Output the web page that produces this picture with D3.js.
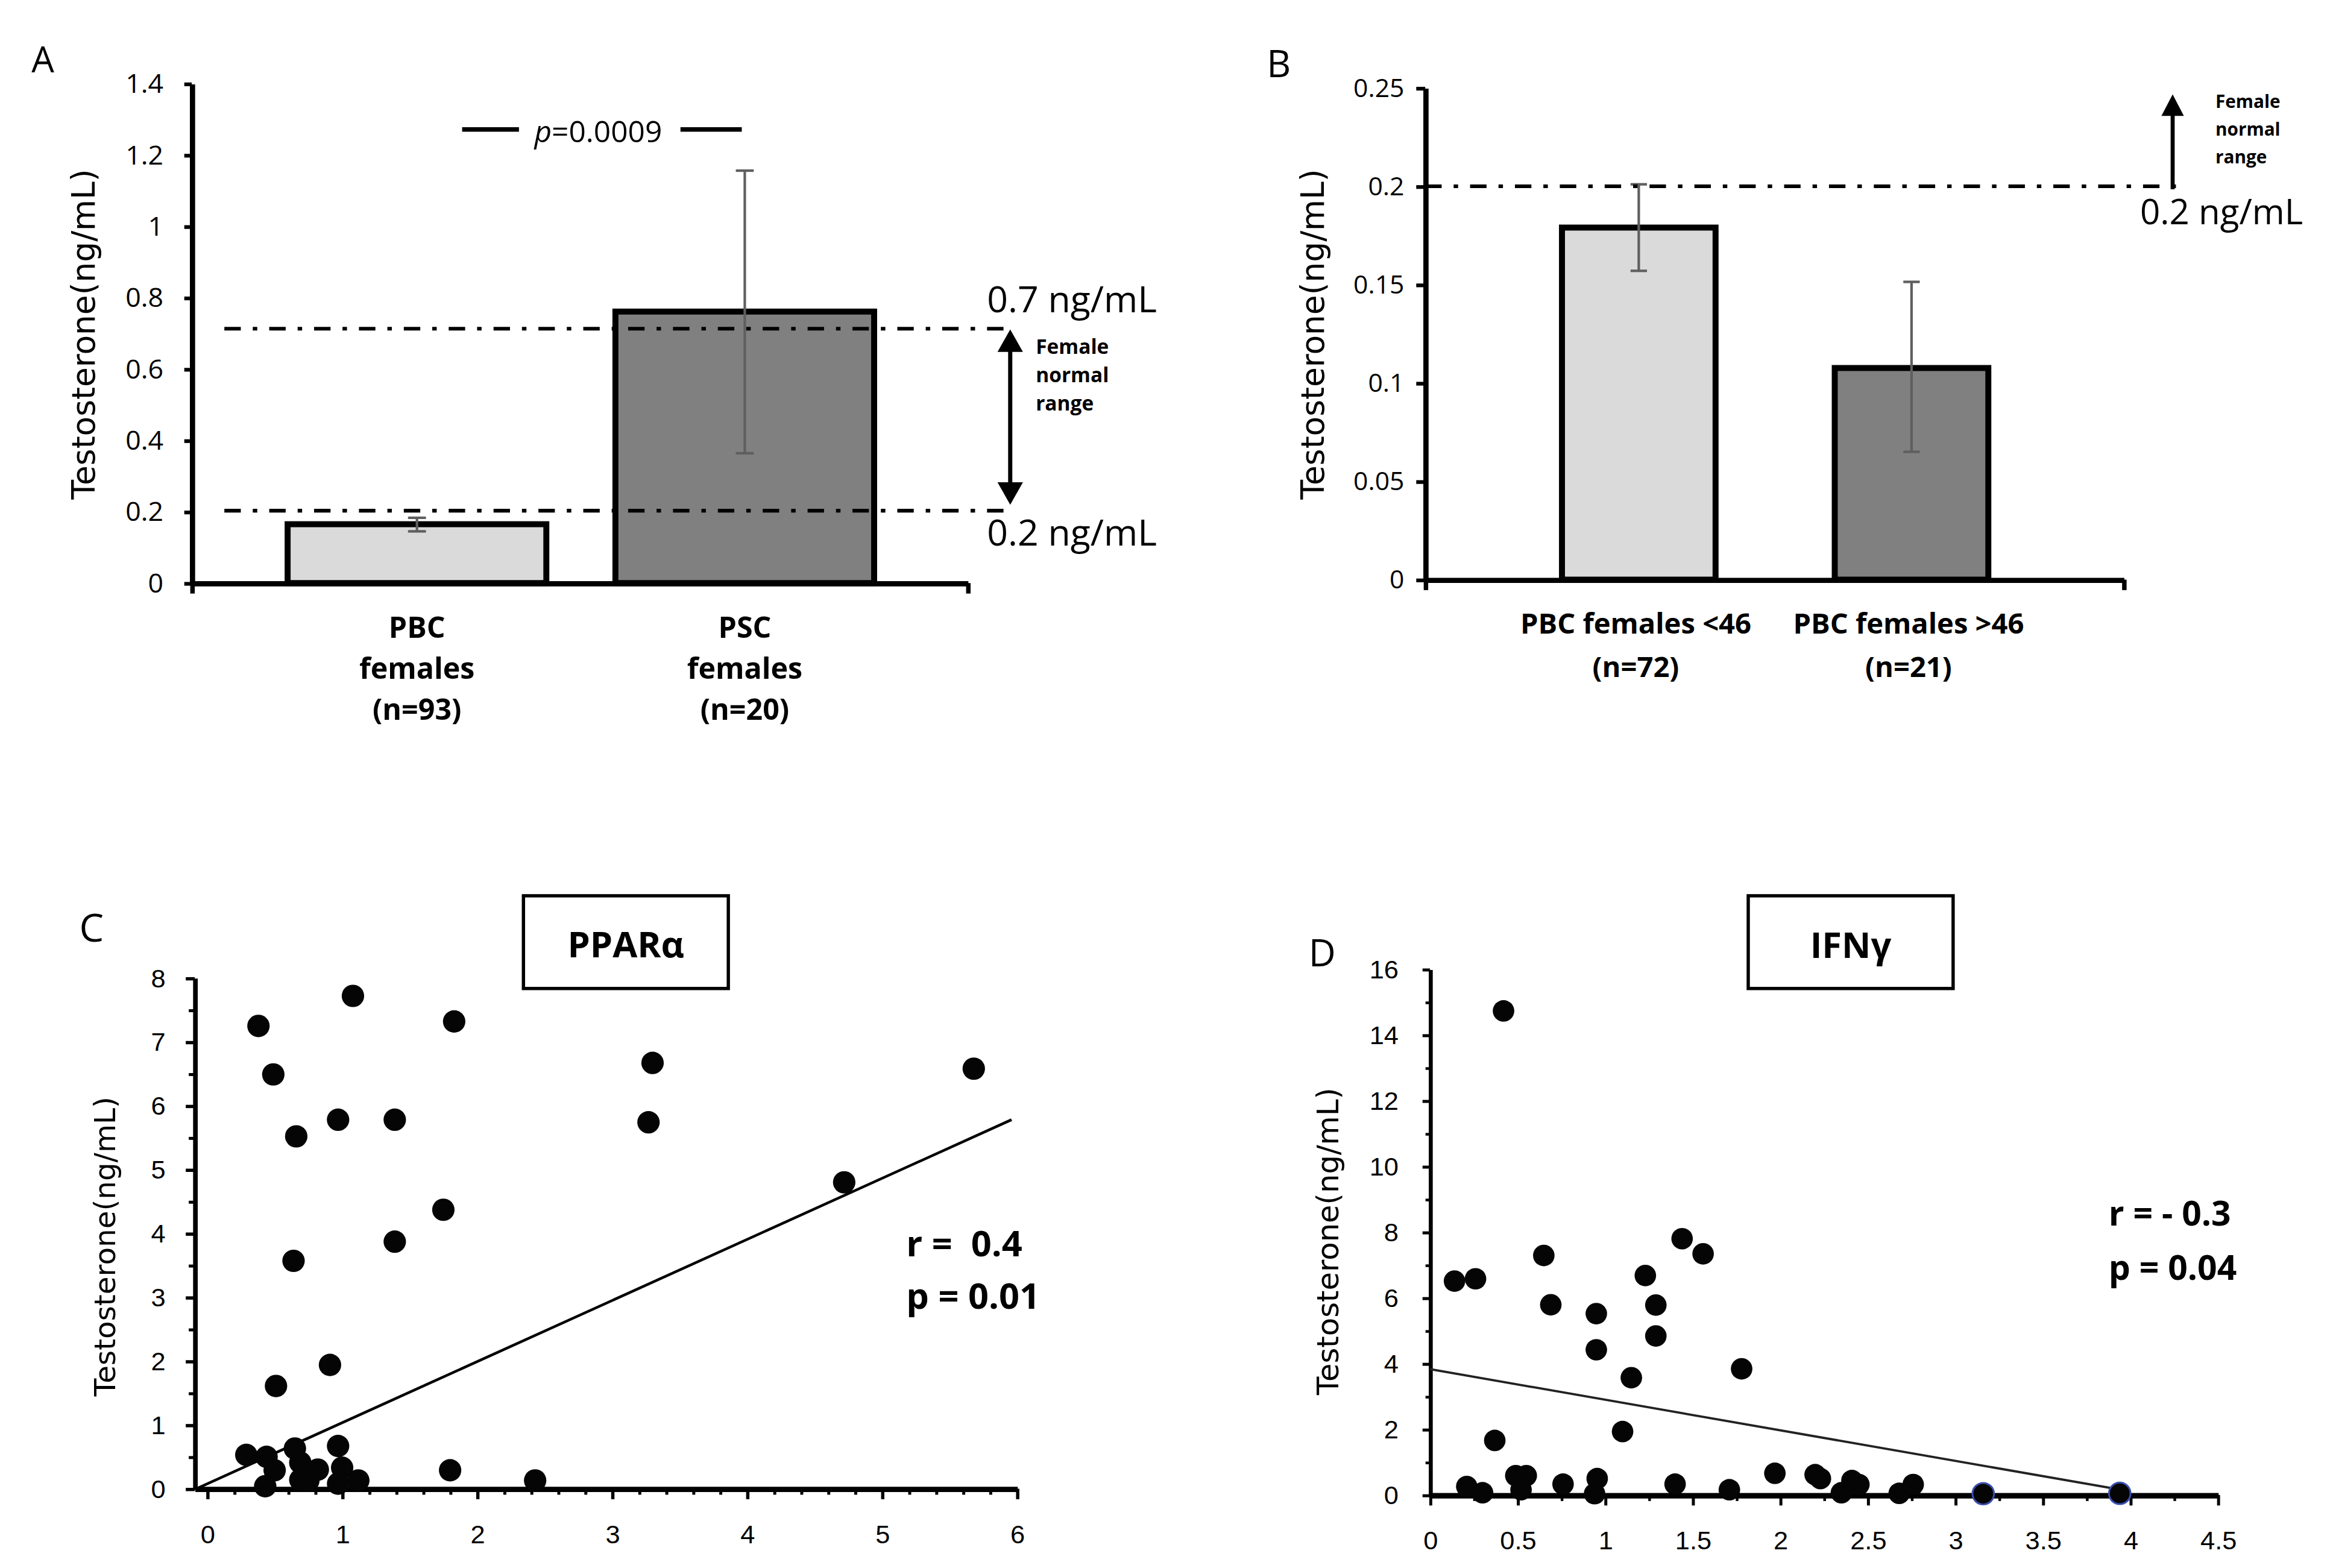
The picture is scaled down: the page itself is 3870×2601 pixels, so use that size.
<!DOCTYPE html>
<html>
<head>
<meta charset="utf-8">
<script src="https://cdn.jsdelivr.net/npm/d3@7"></script>
<style>
  body { margin: 0; background: #fff; }
</style>
</head>
<body>
<svg id="fig"></svg>
<script>
// ---- data ----

// Panel A
var aCategories = [["PBC", "females", "(n=93)"], ["PSC", "females", "(n=20)"]];
var aMeans = [0.165, 0.761];
var aErrLow = [0.145, 0.364];
var aErrHigh = [0.183, 1.156];
var aRange = [0.203, 0.713];
var aRangeLabels = ["0.2 ng/mL", "0.7 ng/mL"];
var aTicks = [0, 0.2, 0.4, 0.6, 0.8, 1, 1.2, 1.4];
var aTickLabels = ["0", "0.2", "0.4", "0.6", "0.8", "1", "1.2", "1.4"];

// Panel B
var bCategories = [["PBC females <46", "(n=72)"], ["PBC females >46", "(n=21)"]];
var bMeans = [0.179, 0.1076];
var bErrLow = [0.157, 0.065];
var bErrHigh = [0.201, 0.1514];
var bRange = 0.2;
var bRangeLabel = "0.2 ng/mL";
var bTicks = [0, 0.05, 0.1, 0.15, 0.2, 0.25];
var bTickLabels = ["0", "0.05", "0.1", "0.15", "0.2", "0.25"];

// Panel C (PPARα)
var cX = [1.08, 0.38, 1.83, 0.49, 3.30, 5.68, 0.97, 1.39, 3.27, 0.66, 4.72, 1.75, 1.39, 0.64, 0.91, 0.51,
          0.29, 0.44, 0.50, 0.43, 0.65, 0.69, 0.82, 0.69, 0.75, 0.97, 1.00, 0.97, 1.12, 1.80, 2.43];
var cY = [7.72, 7.25, 7.32, 6.49, 6.67, 6.58, 5.78, 5.78, 5.74, 5.52, 4.80, 4.37, 3.87, 3.57, 1.94, 1.61,
          0.53, 0.50, 0.29, 0.04, 0.63, 0.41, 0.30, 0.14, 0.13, 0.67, 0.33, 0.08, 0.13, 0.29, 0.13];
var cFit = [0.077, 0.957];           // intercept, slope
var cFitX = [-0.092, 5.96];
var cXTicks = [0, 1, 2, 3, 4, 5, 6];
var cYTicks = [0, 1, 2, 3, 4, 5, 6, 7, 8];
var cStats = ["r =  0.4", "p = 0.01"];

// Panel D (IFNγ)
var dX = [0.42, 0.14, 0.26, 0.65, 0.69, 0.95, 0.95, 1.23, 1.29, 1.29, 1.44, 1.56, 1.15, 1.78, 1.10, 0.37,
          0.21, 0.30, 0.49, 0.55, 0.52, 0.76, 0.955, 0.94, 1.40, 1.71, 1.97, 2.20, 2.23, 2.35, 2.41, 2.45,
          2.68, 2.76, 3.16, 3.94];
var dY = [14.73, 6.51, 6.58, 7.29, 5.79, 5.52, 4.42, 6.68, 5.78, 4.84, 7.80, 7.34, 3.57, 3.84, 1.93, 1.66,
          0.26, 0.07, 0.59, 0.59, 0.16, 0.33, 0.50, 0.04, 0.33, 0.16, 0.66, 0.62, 0.50, 0.07, 0.44, 0.32,
          0.05, 0.32, 0.04, 0.05];
var dFit = [3.83, -0.930];
var dFitX = [0, 3.95];
var dXTicks = [0, 0.5, 1, 1.5, 2, 2.5, 3, 3.5, 4, 4.5];
var dXTickLabels = ["0", "0.5", "1", "1.5", "2", "2.5", "3", "3.5", "4", "4.5"];
var dYTicks = [0, 2, 4, 6, 8, 10, 12, 14, 16];
var dStats = ["r = - 0.3", "p = 0.04"];

// ---- drawing ----
var W = 1560, H = 1048.5;
var svg = d3.select("#fig")
  .attr("width", 3870)
  .attr("height", 2601)
  .attr("viewBox", "0 0 " + W + " " + H);

var calibri = "'Open Sans', sans-serif";
var verdana = "'DejaVu Sans', Verdana, sans-serif";
var arial = "'Liberation Sans', Arial, sans-serif";
var barFills = ["#d9dad9", "#808080"];
var dashDot = "11,8,3,8";

function styleAxis(sel, domainWidth, tickWidth, font, size) {
  sel.select(".domain").attr("stroke", "#000").attr("stroke-width", domainWidth);
  sel.selectAll(".tick line").attr("stroke", "#000").attr("stroke-width", tickWidth);
  sel.selectAll(".tick text").style("font-family", font).style("font-size", size + "px").attr("fill", "#000");
}

function yTitle(x, y, size) {
  svg.append("text")
    .attr("transform", "translate(" + x + "," + y + ") rotate(-90)")
    .attr("text-anchor", "middle")
    .attr("dy", "0.35em")
    .style("font-family", verdana)
    .style("font-size", size + "px")
    .text("Testosterone(ng/mL)");
}

function letter(t, x, y, size) {
  svg.append("text").attr("x", x).attr("y", y)
    .style("font-family", calibri).style("font-size", size + "px")
    .text(t);
}

function arrowHead(x, yTip, dir, len, half) {
  // dir = -1 points up, +1 points down
  var yb = yTip - dir * len;
  svg.append("path")
    .attr("d", "M" + x + "," + yTip + "L" + (x - half) + "," + yb + "L" + (x + half) + "," + yb + "Z")
    .attr("fill", "#000");
}

function errorBars(xs, lows, highs, y, capW) {
  var g = svg.append("g").attr("stroke", "#5f5f5f").attr("stroke-width", 1.7);
  xs.forEach(function(x, i) {
    g.append("line").attr("x1", x).attr("x2", x).attr("y1", y(lows[i])).attr("y2", y(highs[i]));
    g.append("line").attr("x1", x - capW / 2).attr("x2", x + capW / 2).attr("y1", y(lows[i])).attr("y2", y(lows[i]));
    g.append("line").attr("x1", x - capW / 2).attr("x2", x + capW / 2).attr("y1", y(highs[i])).attr("y2", y(highs[i]));
  });
}

// ===== Panel A =====
var yA = d3.scaleLinear().domain([0, 1.4]).range([389.9, 55.9]);
var xA = d3.scalePoint().domain(d3.range(aMeans.length)).range([278.8, 498]);
var barWA = 173;

svg.append("g").selectAll("rect")
  .data(aMeans).join("rect")
  .attr("x", function(d, i) { return xA(i) - barWA / 2; })
  .attr("y", function(d) { return yA(d); })
  .attr("width", barWA)
  .attr("height", function(d) { return yA(0) - yA(d); })
  .attr("fill", function(d, i) { return barFills[i]; })
  .attr("stroke", "#000")
  .attr("stroke-width", 4);

errorBars(aMeans.map(function(d, i) { return xA(i); }), aErrLow, aErrHigh, yA, 12);

var axA = svg.append("g").attr("transform", "translate(128.2,0)")
  .call(d3.axisLeft(yA).tickValues(aTicks).tickFormat(function(d, i) { return aTickLabels[i]; })
    .tickSize(5).tickSizeOuter(0).tickPadding(14));
styleAxis(axA, 3.5, 2.5, calibri, 18);

var axAx = svg.append("g").attr("transform", "translate(0," + yA(0) + ")")
  .call(d3.axisBottom(d3.scaleLinear().range([128.2, 647])).tickValues([0, 1]).tickFormat("")
    .tickSize(7).tickSizeOuter(0));
styleAxis(axAx, 3.5, 3, calibri, 18);

// normal range lines
svg.append("g").selectAll("line")
  .data(aRange).join("line")
  .attr("x1", 150).attr("x2", 677)
  .attr("y1", function(d) { return yA(d); })
  .attr("y2", function(d) { return yA(d); })
  .attr("stroke", "#000").attr("stroke-width", 2.5)
  .attr("stroke-dasharray", dashDot);

// double arrow between the two limits
var arrAx = 675.5;
svg.append("line").attr("x1", arrAx).attr("x2", arrAx)
  .attr("y1", yA(aRange[1]) + 12).attr("y2", yA(aRange[0]) - 12)
  .attr("stroke", "#000").attr("stroke-width", 2.8);
arrowHead(arrAx, yA(aRange[1]) + 0.5, -1, 15, 8.5);
arrowHead(arrAx, yA(aRange[0]) - 4, 1, 15, 8.5);

svg.append("text").attr("x", 660).attr("y", 208.9)
  .style("font-family", calibri).style("font-size", "24.5px").text(aRangeLabels[1]);
svg.append("text").attr("x", 660).attr("y", 365)
  .style("font-family", calibri).style("font-size", "24.5px").text(aRangeLabels[0]);

var fnrA = svg.append("text").attr("x", 692.6).attr("y", 236.5)
  .style("font-family", calibri).style("font-size", "13.5px").style("font-weight", "bold");
["Female", "normal", "range"].forEach(function(t, i) {
  fnrA.append("tspan").attr("x", 692.6).attr("dy", i == 0 ? 0 : 19).text(t);
});

// p value bracket
svg.append("line").attr("x1", 309).attr("x2", 347).attr("y1", 86.6).attr("y2", 86.6)
  .attr("stroke", "#000").attr("stroke-width", 3);
svg.append("line").attr("x1", 455).attr("x2", 496).attr("y1", 86.6).attr("y2", 86.6)
  .attr("stroke", "#000").attr("stroke-width", 3);
var pt = svg.append("text").attr("x", 400).attr("y", 95).attr("text-anchor", "middle")
  .style("font-family", calibri).style("font-size", "20px");
pt.append("tspan").style("font-style", "italic").text("p");
pt.append("tspan").text("=0.0009");

// category labels
aCategories.forEach(function(lines, i) {
  var t = svg.append("text").attr("x", xA(i)).attr("y", 426.5).attr("text-anchor", "middle")
    .style("font-family", calibri).style("font-size", "19.5px").style("font-weight", "bold");
  lines.forEach(function(l, j) {
    t.append("tspan").attr("x", xA(i)).attr("dy", j == 0 ? 0 : 27.5).text(l);
  });
});

yTitle(55.8, 223.5, 21.5);
letter("A", 21, 48.5, 24);

// ===== Panel B =====
var yB = d3.scaleLinear().domain([0, 0.25]).range([387.6, 58.8]);
var xB = d3.scalePoint().domain(d3.range(bMeans.length)).range([1095.8, 1278.2]);
var barWB = 102.7;

svg.append("g").selectAll("rect")
  .data(bMeans).join("rect")
  .attr("x", function(d, i) { return xB(i) - barWB / 2; })
  .attr("y", function(d) { return yB(d); })
  .attr("width", barWB)
  .attr("height", function(d) { return yB(0) - yB(d); })
  .attr("fill", function(d, i) { return barFills[i]; })
  .attr("stroke", "#000")
  .attr("stroke-width", 4);

errorBars(bMeans.map(function(d, i) { return xB(i); }), bErrLow, bErrHigh, yB, 11);

var axB = svg.append("g").attr("transform", "translate(953,0)")
  .call(d3.axisLeft(yB).tickValues(bTicks).tickFormat(function(d, i) { return bTickLabels[i]; })
    .tickSize(6).tickSizeOuter(0).tickPadding(8));
styleAxis(axB, 3.5, 2.5, calibri, 17.2);

var axBx = svg.append("g").attr("transform", "translate(0," + yB(0) + ")")
  .call(d3.axisBottom(d3.scaleLinear().range([953, 1420])).tickValues([0, 1]).tickFormat("")
    .tickSize(7).tickSizeOuter(0));
styleAxis(axBx, 3.5, 3, calibri, 17);

svg.append("line")
  .attr("x1", 953).attr("x2", 1458.7)
  .attr("y1", yB(bRange)).attr("y2", yB(bRange))
  .attr("stroke", "#000").attr("stroke-width", 2.5)
  .attr("stroke-dasharray", dashDot);

var arrBx = 1452.8;
svg.append("line").attr("x1", arrBx).attr("x2", arrBx)
  .attr("y1", yB(bRange) + 2).attr("y2", yB(bRange) - 50)
  .attr("stroke", "#000").attr("stroke-width", 2.7);
arrowHead(arrBx, yB(bRange) - 61.5, -1, 14.4, 7.5);

svg.append("text").attr("x", 1431).attr("y", 149.8)
  .style("font-family", calibri).style("font-size", "23.5px").text(bRangeLabel);

var fnrB = svg.append("text").attr("x", 1481.4).attr("y", 72.3)
  .style("font-family", calibri).style("font-size", "12px").style("font-weight", "bold");
["Female", "normal", "range"].forEach(function(t, i) {
  fnrB.append("tspan").attr("x", 1481.4).attr("dy", i == 0 ? 0 : 18.4).text(t);
});

bCategories.forEach(function(lines, i) {
  var t = svg.append("text").attr("x", xB(i) - 2).attr("y", 423.5).attr("text-anchor", "middle")
    .style("font-family", calibri).style("font-size", "19px").style("font-weight", "bold");
  lines.forEach(function(l, j) {
    t.append("tspan").attr("x", xB(i) - 2).attr("dy", j == 0 ? 0 : 29).text(l);
  });
});

yTitle(877.5, 223.5, 21.5);
letter("B", 847, 51.7, 25);

// ===== Panel C =====
var xC = d3.scaleLinear().domain([cFitX[0], 6]).range([130.2, 680]);
var yC = d3.scaleLinear().domain([0, 8]).range([995.5, 654]);

var cMinorX = d3.range(0.2, 6, 0.2).filter(function(v) { return Math.abs(v - Math.round(v)) > 0.01; });
var cMinorY = d3.range(0.5, 8, 1);

var axCxm = svg.append("g").attr("transform", "translate(0," + yC(0) + ")")
  .call(d3.axisBottom(xC).tickValues(cMinorX).tickFormat("").tickSize(4).tickSizeOuter(0));
styleAxis(axCxm, 3.5, 2, arial, 17);
var axCx = svg.append("g").attr("transform", "translate(0," + yC(0) + ")")
  .call(d3.axisBottom(xC).tickValues(cXTicks).tickFormat(d3.format("d")).tickSize(7).tickSizeOuter(0).tickPadding(17));
styleAxis(axCx, 3.5, 2.2, arial, 17.5);

var axCym = svg.append("g").attr("transform", "translate(" + xC(cFitX[0]) + ",0)")
  .call(d3.axisLeft(yC).tickValues(cMinorY).tickFormat("").tickSize(4).tickSizeOuter(0));
styleAxis(axCym, 3, 2, arial, 17);
var axCy = svg.append("g").attr("transform", "translate(" + xC(cFitX[0]) + ",0)")
  .call(d3.axisLeft(yC).tickValues(cYTicks).tickFormat(d3.format("d")).tickSize(6).tickSizeOuter(0).tickPadding(13.5));
styleAxis(axCy, 3, 2.2, arial, 17.5);

svg.append("line")
  .attr("x1", xC(cFitX[0])).attr("y1", yC(cFit[0] + cFit[1] * cFitX[0]))
  .attr("x2", xC(cFitX[1])).attr("y2", yC(cFit[0] + cFit[1] * cFitX[1]))
  .attr("stroke", "#000").attr("stroke-width", 1.8);

svg.append("g").selectAll("circle")
  .data(cX).join("circle")
  .attr("cx", function(d) { return xC(d); })
  .attr("cy", function(d, i) { return yC(cY[i]); })
  .attr("r", 7.5)
  .attr("fill", "#050505");

svg.append("rect").attr("x", 350).attr("y", 599).attr("width", 137).attr("height", 62)
  .attr("fill", "#fff").attr("stroke", "#000").attr("stroke-width", 2.2);
svg.append("text").attr("x", 418.5).attr("y", 640).attr("text-anchor", "middle")
  .style("font-family", calibri).style("font-size", "24px").style("font-weight", "bold").text("PPARα");

cStats.forEach(function(s, i) {
  svg.append("text").attr("x", 606).attr("y", 840 + i * 35).attr("xml:space", "preserve")
    .style("white-space", "pre")
    .style("font-family", calibri).style("font-size", "24px").style("font-weight", "bold").text(s);
});

yTitle(70, 833.5, 19.5);
letter("C", 53, 629.5, 26);

// ===== Panel D =====
var xD = d3.scaleLinear().domain([0, 4.5]).range([956.2, 1483]);
var yD = d3.scaleLinear().domain([0, 16]).range([999.7, 648.1]);

var dMinorX = d3.range(0.25, 4.5, 0.5);
var dMinorY = d3.range(1, 16, 2);

var axDxm = svg.append("g").attr("transform", "translate(0," + yD(0) + ")")
  .call(d3.axisBottom(xD).tickValues(dMinorX).tickFormat("").tickSize(4).tickSizeOuter(0));
styleAxis(axDxm, 3.5, 1.8, arial, 17);
var axDx = svg.append("g").attr("transform", "translate(0," + yD(0) + ")")
  .call(d3.axisBottom(xD).tickValues(dXTicks).tickFormat(function(d, i) { return dXTickLabels[i]; })
    .tickSize(7).tickSizeOuter(0).tickPadding(17));
styleAxis(axDx, 3.5, 2, arial, 17.5);

var axDym = svg.append("g").attr("transform", "translate(" + xD(0) + ",0)")
  .call(d3.axisLeft(yD).tickValues(dMinorY).tickFormat("").tickSize(3).tickSizeOuter(0));
styleAxis(axDym, 2.5, 1.8, arial, 17);
var axDy = svg.append("g").attr("transform", "translate(" + xD(0) + ",0)")
  .call(d3.axisLeft(yD).tickValues(dYTicks).tickFormat(d3.format("d")).tickSize(5).tickSizeOuter(0).tickPadding(16));
styleAxis(axDy, 2.5, 2, arial, 17.5);

svg.append("line")
  .attr("x1", xD(dFitX[0])).attr("y1", yD(dFit[0] + dFit[1] * dFitX[0]))
  .attr("x2", xD(dFitX[1])).attr("y2", yD(dFit[0] + dFit[1] * dFitX[1]))
  .attr("stroke", "#222").attr("stroke-width", 1.5);

var dBlueRim = [34, 35];
svg.append("g").selectAll("circle")
  .data(dX).join("circle")
  .attr("cx", function(d) { return xD(d); })
  .attr("cy", function(d, i) { return yD(dY[i]); })
  .attr("r", 7.2)
  .attr("fill", "#050505")
  .attr("stroke", function(d, i) { return dBlueRim.indexOf(i) >= 0 ? "#3a4fb0" : "none"; })
  .attr("stroke-width", 1.2);

svg.append("rect").attr("x", 1169).attr("y", 599).attr("width", 137).attr("height", 62)
  .attr("fill", "#fff").attr("stroke", "#000").attr("stroke-width", 2.2);
svg.append("text").attr("x", 1237.5).attr("y", 640.5).attr("text-anchor", "middle")
  .style("font-family", calibri).style("font-size", "24px").style("font-weight", "bold").text("IFNγ");

dStats.forEach(function(s, i) {
  svg.append("text").attr("x", 1410).attr("y", 819.5 + i * 36.5)
    .style("font-family", calibri).style("font-size", "23px").style("font-weight", "bold").text(s);
});

yTitle(888, 830, 20);
letter("D", 875, 646, 25);
</script>
</body>
</html>
